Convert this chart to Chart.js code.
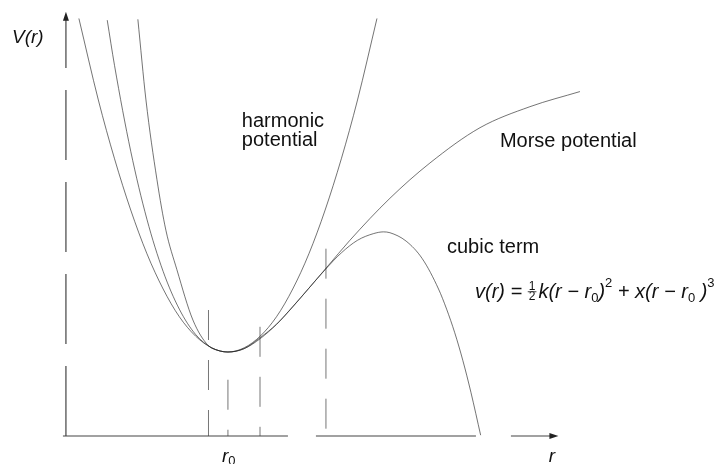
<!DOCTYPE html>
<html>
<head>
<meta charset="utf-8">
<script src="https://cdn.jsdelivr.net/npm/chart.js@4.4.1/dist/chart.umd.min.js"></script>
<style>
  html, body { margin: 0; padding: 0; background: #fff; }
  #wrap { width: 717px; height: 464px; }
</style>
</head>
<body>
<div id="wrap"><canvas id="c" width="717" height="464"></canvas></div>
<script>
// Potential energy curves V(r) around the equilibrium separation r0 = 1.
const harmonicR = [0.08, 0.2, 0.3, 0.4, 0.5, 0.6, 0.7, 0.8, 0.9, 1.0, 1.1, 1.2, 1.3, 1.4, 1.5, 1.6, 1.7, 1.8, 1.92];
const harmonicV = [4.97, 4.00, 3.30, 2.69, 2.17, 1.75, 1.42, 1.19, 1.05, 1.00, 1.05, 1.19, 1.42, 1.75, 2.17, 2.69, 3.30, 4.00, 4.97];

const cubicR = [0.255, 0.3, 0.4, 0.5, 0.6, 0.7, 0.8, 0.9, 1.0, 1.1, 1.2, 1.3, 1.4, 1.5, 1.6, 1.7, 1.8, 1.9, 1.96, 2.0, 2.1, 2.2, 2.3, 2.35, 2.4, 2.45, 2.5, 2.56];
const cubicV = [4.95, 4.41, 3.39, 2.58, 1.96, 1.51, 1.21, 1.05, 1.00, 1.04, 1.16, 1.33, 1.54, 1.76, 1.98, 2.18, 2.33, 2.41, 2.43, 2.42, 2.32, 2.11, 1.75, 1.51, 1.23, 0.90, 0.52, 0.01];

const morseR = [0.444, 0.494, 0.562, 0.617, 0.685, 0.784, 0.877, 0.938, 1.0, 1.1, 1.198, 1.3, 1.383, 1.5, 1.611, 1.753, 2.0, 2.247, 2.556, 2.864, 3.173];
const morseV = [4.96, 4.00, 3.05, 2.45, 1.98, 1.38, 1.08, 1.02, 1.00, 1.04, 1.17, 1.33, 1.50, 1.76, 2.01, 2.33, 2.83, 3.25, 3.67, 3.92, 4.10];

// dashed guide lines: position on r and height where each one starts
const guideR = [0.88, 1.0, 1.198, 1.605];
const guideTop = [1.50, 0.67, 1.30, 2.23];

// axis extents (data units)
const axisREnd = 3.04;
const axisVEnd = 5.05;

const pts = (rs, vs) => rs.map((r, i) => ({ x: r, y: vs[i] }));

const curveStyle = {
  borderColor: 'rgba(30,30,30,0.62)',
  borderWidth: 1,
  pointRadius: 0,
  fill: false,
  cubicInterpolationMode: 'monotone'
};

const datasets = [
  Object.assign({ label: 'harmonic potential', data: pts(harmonicR, harmonicV) }, curveStyle),
  Object.assign({ label: 'cubic term', data: pts(cubicR, cubicV) }, curveStyle),
  Object.assign({ label: 'Morse potential', data: pts(morseR, morseV) }, curveStyle)
];
guideR.forEach((r, i) => {
  datasets.push({
    label: 'guide ' + i,
    data: [{ x: r, y: guideTop[i] }, { x: r, y: 0 }],
    borderColor: 'rgba(60,60,60,0.7)',
    borderWidth: 1,
    borderDash: [30, 20],
    pointRadius: 0,
    tension: 0
  });
});

const FONT = '"Liberation Sans", Arial, sans-serif';

const decor = {
  id: 'decor',
  afterDatasetsDraw(chart) {
    const ctx = chart.ctx;
    const xs = chart.scales.x, ys = chart.scales.y;
    const px = v => xs.getPixelForValue(v);
    const py = v => ys.getPixelForValue(v);
    ctx.save();

    // axes with arrowheads
    const ox = px(0), oy = py(0);
    const xe = px(axisREnd), ye = py(axisVEnd);
    ctx.strokeStyle = '#444';
    ctx.fillStyle = '#222';
    ctx.lineWidth = 1.2;
    ctx.beginPath();
    ctx.setLineDash([70, 22]);
    ctx.moveTo(ox, oy); ctx.lineTo(ox, ye + 6);
    ctx.stroke();
    ctx.beginPath();
    ctx.setLineDash([225, 28, 160, 35]);
    ctx.moveTo(ox - 3, oy); ctx.lineTo(xe - 6, oy);
    ctx.stroke();
    ctx.setLineDash([]);
    ctx.beginPath();
    ctx.moveTo(ox, ye); ctx.lineTo(ox - 3, ye + 9); ctx.lineTo(ox + 3, ye + 9); ctx.closePath();
    ctx.moveTo(xe, oy); ctx.lineTo(xe - 9, oy - 3); ctx.lineTo(xe - 9, oy + 3); ctx.closePath();
    ctx.fill();

    // labels
    ctx.fillStyle = '#111';
    ctx.textBaseline = 'alphabetic';
    ctx.textAlign = 'left';
    ctx.font = 'italic 19px ' + FONT;
    ctx.fillText('V(r)', px(-0.333), py(4.68));

    ctx.font = '20px ' + FONT;
    ctx.fillText('harmonic', px(1.086), py(3.68));
    ctx.fillText('potential', px(1.086), py(3.45));
    ctx.fillText('Morse potential', px(2.679), py(3.44));
    ctx.fillText('cubic term', px(2.352), py(2.18));

    // r0 and r under the axis
    ctx.font = 'italic 19px ' + FONT;
    let x0 = px(0.963);
    const yb = py(-0.31);
    ctx.fillText('r', x0, yb);
    x0 += ctx.measureText('r').width;
    ctx.font = '13px ' + FONT;
    ctx.fillText('0', x0, yb + 3);
    ctx.font = 'italic 19px ' + FONT;
    ctx.fillText('r', px(2.98), yb);

    // formula
    const big = 'italic 20px ' + FONT;
    const small = '13px ' + FONT;
    let cx = px(2.525);
    const by = py(1.64);
    const put = (s, font, dy) => {
      ctx.font = font;
      ctx.fillText(s, cx, by + (dy || 0));
      cx += ctx.measureText(s).width;
    };
    put('v(r) = ', big);
    ctx.font = '12px ' + FONT;
    const fw = ctx.measureText('1').width;
    ctx.fillText('1', cx + 1, by - 8);
    ctx.fillText('2', cx + 1, by + 2);
    ctx.lineWidth = 1;
    ctx.beginPath();
    ctx.moveTo(cx, by - 6.5); ctx.lineTo(cx + fw + 2, by - 6.5);
    ctx.stroke();
    cx += fw + 4;
    put('k(r \u2212 r', big);
    put('0', small, 4);
    put(')', big);
    put('2', small, -11);
    put(' + x(r \u2212 r', big);
    put('0', small, 4);
    put(' )', big);
    put('3', small, -11);

    ctx.restore();
  }
};

new Chart(document.getElementById('c'), {
  type: 'line',
  data: { datasets },
  options: {
    responsive: false,
    animation: false,
    parsing: true,
    layout: { padding: 0 },
    plugins: { legend: { display: false }, tooltip: { enabled: false }, title: { display: false } },
    scales: {
      x: { type: 'linear', min: -0.407, max: 4.019, display: false },
      y: { type: 'linear', min: -0.333, max: 5.19, display: false }
    }
  },
  plugins: [decor]
});
</script>
</body>
</html>
